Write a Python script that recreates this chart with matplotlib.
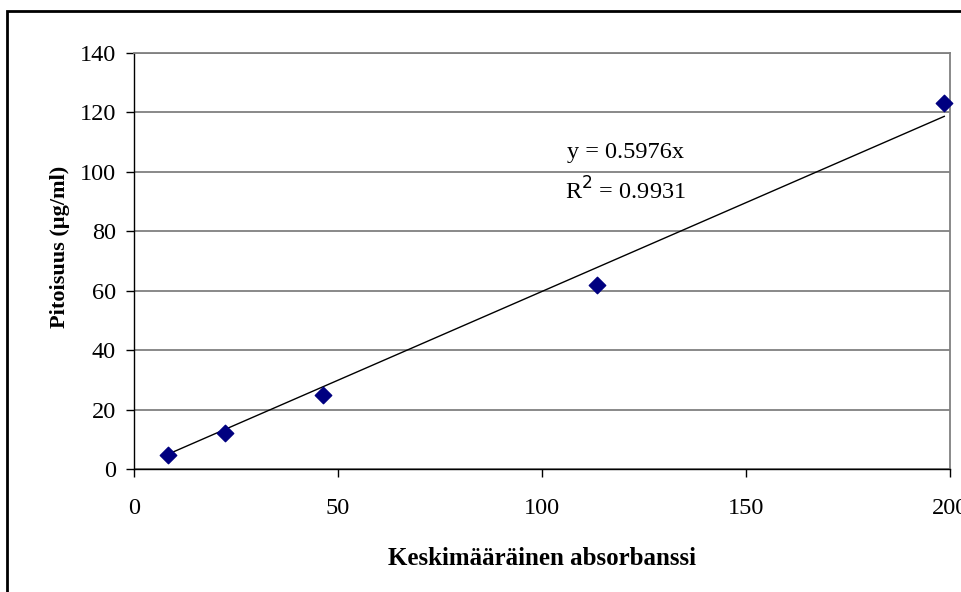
import matplotlib.pyplot as plt
import numpy as np
from matplotlib.patches import Rectangle

absorbance = [8.3, 22.4, 46.4, 113.6, 198.6]
concentration = [4.7, 12.2, 24.9, 62.0, 123.1]
slope = 0.5976
r2 = 0.9931

plt.rcParams["font.family"] = ["Liberation Serif", "DejaVu Serif"]

fig = plt.figure(figsize=(9.62, 5.92), dpi=100)
ax = fig.add_axes([134 / 962, 1 - 469 / 592, 816 / 962, 416 / 592])

# outer chart border (Excel style)
fig.patches.append(Rectangle((7 / 962, -0.01), 1.0, 1 - 11 / 592 + 0.01,
                             transform=fig.transFigure, fill=False,
                             edgecolor="black", linewidth=2.0))

xs = np.array([min(absorbance), max(absorbance)])
ax.plot(xs, slope * xs, color="black", linewidth=1.0, zorder=2)
ax.scatter(absorbance, concentration, marker="D", s=70, color="#000080",
           zorder=3, clip_on=False)

ax.set_xlim(0, 200)
ax.set_ylim(0, 140)
ax.set_xticks([0, 50, 100, 150, 200])
ax.set_yticks(range(0, 141, 20))
ax.yaxis.grid(True, color="#808080", linewidth=1.3)
ax.set_axisbelow(True)

for s in ["top", "right"]:
    ax.spines[s].set_color("#808080")
    ax.spines[s].set_linewidth(1.3)
for s in ["left", "bottom"]:
    ax.spines[s].set_color("black")
    ax.spines[s].set_linewidth(1.0)

ax.tick_params(axis="both", labelsize=17.5, length=6, width=1.0,
               direction="out")
ax.tick_params(axis="y", pad=7)
ax.tick_params(axis="x", pad=15)

ax.set_xlabel("Keskimääräinen absorbanssi", fontsize=18, fontweight="bold",
              labelpad=20)
ax.set_ylabel("Pitoisuus (µg/ml)", fontsize=16, fontweight="bold")
ax.yaxis.set_label_coords(-0.079, 0.534)

ax.text(0.602, 0.76, f"y = {slope}x", transform=ax.transAxes, fontsize=17.5,
        ha="center", va="center")
ax.text(0.602, 0.668, f"R$^{{2}}$ = {r2}", transform=ax.transAxes,
        fontsize=17.5, ha="center", va="center")

fig.savefig("out.png", dpi=100)
